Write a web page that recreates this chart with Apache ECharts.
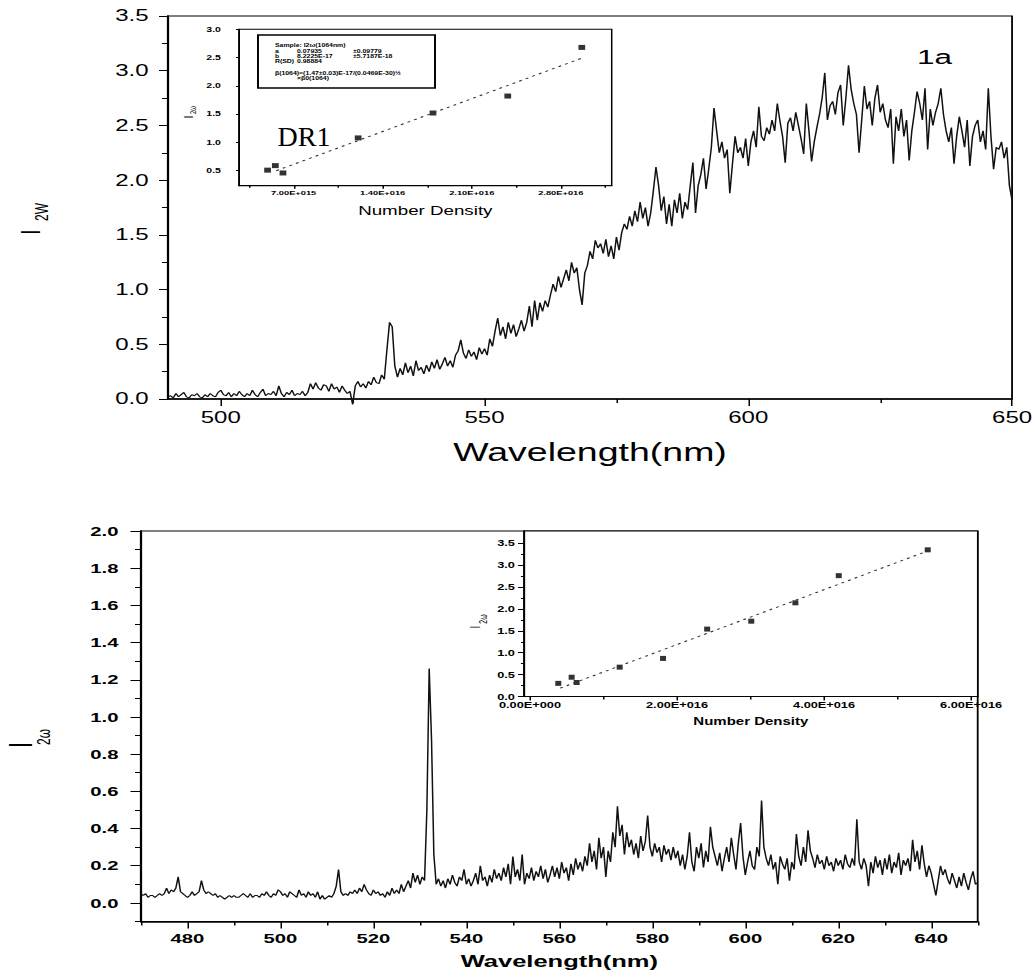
<!DOCTYPE html>
<html>
<head>
<meta charset="utf-8">
<script src="https://cdn.jsdelivr.net/npm/echarts@6/dist/echarts.min.js"></script>
<style>
html,body{margin:0;padding:0;background:#fff;}
#frame{width:1035px;height:979px;overflow:hidden;}
/* the scanned figure is stretched sideways, so draw narrow and widen with css */
#chart{width:690px;height:979px;transform:scaleX(1.5);transform-origin:0 0;}
</style>
</head>
<body>
<div id="frame"><div id="chart"></div></div>
<script>
// top panel (1a): SHG spectrum 490-650 nm, one value every 0.5 nm
const topStart = 490
const topStep = 0.5
const topI2w = [
  0.02,0.03,0.01,0.05,0.02,0.04,0.06,0.02,0.01,0.04,
  0.03,0.05,0.02,0.01,0.04,0.02,0.05,0.03,0.02,0.06,
  0.08,0.04,0.03,0.06,0.02,0.05,0.03,0.07,0.04,0.02,
  0.05,0.03,0.08,0.04,0.02,0.06,0.09,0.03,0.05,0.04,
  0.07,0.03,0.12,0.05,0.02,0.06,0.04,0.08,0.03,0.05,
  0.04,0.07,0.03,0.06,0.14,0.09,0.15,0.10,0.08,0.13,
  0.12,0.07,0.14,0.09,0.11,0.06,0.12,0.08,0.05,0.07,
  -0.05,0.12,0.16,0.11,0.14,0.10,0.16,0.13,0.20,0.15,
  0.14,0.22,0.18,0.45,0.70,0.66,0.30,0.20,0.28,0.22,
  0.33,0.24,0.30,0.21,0.35,0.26,0.29,0.23,0.31,0.25,
  0.34,0.28,0.36,0.27,0.32,0.38,0.30,0.35,0.29,0.40,
  0.44,0.54,0.42,0.37,0.45,0.39,0.43,0.36,0.47,0.41,
  0.46,0.40,0.55,0.48,0.62,0.74,0.58,0.66,0.55,0.70,
  0.60,0.68,0.57,0.64,0.72,0.62,0.70,0.85,0.66,0.90,
  0.72,0.88,0.80,0.90,0.84,0.95,1.05,0.98,1.12,1.02,
  1.10,1.18,1.08,1.25,1.15,1.20,1.00,0.86,1.15,1.22,
  1.35,1.28,1.45,1.38,1.42,1.33,1.46,1.30,1.40,1.28,
  1.48,1.36,1.52,1.60,1.55,1.67,1.58,1.72,1.62,1.80,
  1.65,1.75,1.58,1.70,1.90,2.12,1.95,1.72,1.85,1.60,
  1.78,1.58,1.82,1.70,1.88,1.65,1.80,1.73,1.95,2.16,
  1.70,1.95,2.05,2.20,1.92,2.10,2.30,2.66,2.45,2.25,
  2.35,2.20,2.28,1.88,2.15,2.40,2.25,2.30,2.20,2.38,
  2.13,2.35,2.45,2.30,2.67,2.40,2.36,2.48,2.42,2.55,
  2.45,2.70,2.54,2.40,2.16,2.52,2.57,2.45,2.62,2.50,
  2.38,2.24,2.70,2.45,2.17,2.35,2.48,2.60,2.75,2.98,
  2.55,2.68,2.72,2.60,2.80,2.87,2.50,2.75,3.05,2.83,
  2.70,2.60,2.25,2.55,2.86,2.65,2.72,2.50,2.75,2.87,
  2.62,2.70,2.55,2.48,2.65,2.15,2.58,2.45,2.65,2.40,
  2.55,2.18,2.45,2.62,2.81,2.70,2.55,2.84,2.28,2.65,
  2.50,2.62,2.70,2.84,2.60,2.45,2.35,2.48,2.15,2.40,
  2.58,2.45,2.30,2.55,2.13,2.40,2.50,2.55,2.35,2.45,
  2.28,2.84,2.40,2.10,2.30,2.28,2.35,2.20,2.30,1.95,
  1.82
]

// bottom panel: spectrum 470-650 nm, one value every 0.5 nm
const botStart = 470
const botStep = 0.5
const botI2w = [
  0.05,0.04,0.05,0.03,0.04,0.04,0.03,0.04,0.05,0.04,
  0.05,0.08,0.05,0.07,0.06,0.08,0.14,0.06,0.05,0.04,
  0.03,0.04,0.06,0.04,0.05,0.06,0.12,0.07,0.05,0.06,
  0.05,0.04,0.05,0.03,0.04,0.03,0.02,0.03,0.04,0.03,
  0.04,0.03,0.03,0.04,0.05,0.04,0.03,0.05,0.03,0.04,
  0.04,0.03,0.05,0.04,0.06,0.04,0.03,0.05,0.04,0.07,
  0.06,0.04,0.05,0.03,0.06,0.05,0.04,0.03,0.07,0.04,
  0.05,0.03,0.06,0.04,0.05,0.03,0.06,0.02,0.04,0.02,
  0.03,0.04,0.03,0.05,0.09,0.18,0.06,0.04,0.05,0.04,
  0.06,0.05,0.07,0.05,0.08,0.06,0.10,0.07,0.05,0.04,
  0.07,0.05,0.06,0.04,0.05,0.03,0.06,0.04,0.08,0.05,
  0.07,0.05,0.10,0.06,0.09,0.12,0.08,0.16,0.11,0.15,
  0.10,0.14,0.12,0.50,1.26,0.88,0.26,0.10,0.13,0.09,
  0.12,0.08,0.13,0.10,0.15,0.11,0.09,0.14,0.12,0.18,
  0.10,0.13,0.09,0.12,0.16,0.10,0.20,0.12,0.14,0.09,
  0.15,0.11,0.18,0.13,0.16,0.12,0.19,0.14,0.21,0.10,
  0.25,0.14,0.18,0.12,0.26,0.10,0.16,0.13,0.19,0.12,
  0.17,0.14,0.20,0.13,0.18,0.11,0.15,0.20,0.14,0.19,
  0.13,0.22,0.16,0.19,0.12,0.21,0.15,0.24,0.18,0.22,
  0.17,0.25,0.20,0.32,0.22,0.28,0.18,0.35,0.24,0.30,
  0.14,0.28,0.22,0.38,0.30,0.52,0.36,0.42,0.26,0.38,
  0.30,0.34,0.26,0.32,0.24,0.36,0.28,0.33,0.47,0.30,
  0.25,0.32,0.27,0.30,0.22,0.31,0.26,0.29,0.23,0.30,
  0.24,0.28,0.20,0.26,0.18,0.25,0.38,0.22,0.17,0.30,
  0.24,0.32,0.19,0.28,0.22,0.41,0.30,0.25,0.20,0.27,
  0.17,0.24,0.30,0.22,0.35,0.26,0.18,0.32,0.43,0.25,
  0.15,0.22,0.28,0.20,0.18,0.30,0.25,0.55,0.30,0.24,
  0.20,0.26,0.18,0.22,0.10,0.25,0.21,0.18,0.24,0.12,
  0.22,0.18,0.37,0.25,0.20,0.30,0.22,0.39,0.28,0.24,
  0.19,0.26,0.21,0.23,0.18,0.25,0.20,0.22,0.17,0.24,
  0.20,0.23,0.18,0.26,0.21,0.19,0.24,0.20,0.45,0.22,
  0.18,0.24,0.20,0.09,0.22,0.16,0.25,0.19,0.23,0.15,
  0.24,0.18,0.26,0.16,0.22,0.19,0.27,0.15,0.23,0.20,
  0.24,0.17,0.34,0.22,0.28,0.18,0.31,0.21,0.14,0.20,
  0.16,0.10,0.04,0.12,0.20,0.15,0.18,0.13,0.10,0.16,
  0.12,0.08,0.14,0.09,0.16,0.11,0.07,0.13,0.17,0.10,
  0.11
]

// insets: I2w against number density, with the linear fit
const topDensity = [4.95e15, 5.56e15, 6.16e15, 1.207e16, 1.795e16, 2.383e16, 2.965e16]
const topInsetI = [0.51, 0.59, 0.46, 1.08, 1.52, 1.82, 2.68]
const topFitX = [5.63e15, 2.965e16]
const topFitY = [0.50, 2.49]
const botDensity = [3.85e15, 5.67e15, 6.35e15, 1.22e16, 1.81e16, 2.41e16, 3.01e16, 3.61e16, 4.20e16, 5.41e16]
const botInsetI = [0.30, 0.44, 0.32, 0.67, 0.87, 1.54, 1.72, 2.14, 2.76, 3.35]
const botFitX = [4.1e15, 5.42e16]
const botFitY = [0.19, 3.33]

// tick values
const topWaveTicks = [500, 550, 600, 650]
const topWaveMinor = [525, 575, 625]
const topIntTicks = [0, 0.5, 1, 1.5, 2, 2.5, 3, 3.5]
const topIntMinor = [0.25, 0.75, 1.25, 1.75, 2.25, 2.75, 3.25]
const topDenTicks = [7e15, 1.4e16, 2.1e16, 2.8e16]
const topDenMinor = [3.5e15, 1.05e16, 1.75e16, 2.45e16, 3.15e16]
const topInsetTicks = [0.5, 1, 1.5, 2, 2.5, 3]
const botWaveTicks = [480, 500, 520, 540, 560, 580, 600, 620, 640]
const botWaveMinor = [470, 490, 510, 530, 550, 570, 590, 610, 630, 650]
const botIntTicks = [0, 0.2, 0.4, 0.6, 0.8, 1, 1.2, 1.4, 1.6, 1.8, 2]
const botIntMinor = [-0.1, 0.1, 0.3, 0.5, 0.7, 0.9, 1.1, 1.3, 1.5, 1.7, 1.9]
const botDenTicks = [0, 2e16, 4e16, 6e16]
const botDenMinor = [1e16, 3e16, 5e16]
const botInsetTicks = [0, 0.5, 1, 1.5, 2, 2.5, 3, 3.5]
const botInsetMinor = [0.25, 0.75, 1.25, 1.75, 2.25, 2.75, 3.25]

const fitNotes = [
  ['Sample: I2ω(1064nm)'],
  ['a', '0.07935', '±0.09779'],
  ['b', '8.2225E-17', '±5.7187E-18'],
  ['R(SD)', '0.98884'],
  ['β(1064)=(1.47±0.03)E-17/(0.0469E-30)½'],
  ['', '×β0(1064)']
]

const sans = 'Liberation Sans'

function sci(v){
  if(v === 0) return '0.00E+000'
  const e = Math.floor(Math.log10(v) + 1e-9)
  return (v / Math.pow(10, e)).toFixed(2) + 'E+' + String(e).padStart(3, '0')
}

// main axis + a second one on the same side that only draws the short ticks
function axes(dim, grid, min, max, major, minor, o){
  const pos = dim === 'x' ? 'bottom' : 'left'
  const main = {
    type:'value', gridIndex:grid, min:min, max:max, position:pos,
    axisLine:{show:true, onZero:false, lineStyle:{color:'#000', width:o.line}},
    axisTick:{show:true, inside:false, length:o.tick, customValues:major, lineStyle:{color:'#000', width:1}},
    axisLabel:{show:true, customValues:major, formatter:o.fmt, margin:o.margin, color:'#000',
      fontFamily:sans, fontSize:o.size, fontWeight:o.weight || 'normal'},
    splitLine:{show:false}
  }
  if(o.name){
    main.name = o.name
    main.nameLocation = 'middle'
    main.nameGap = o.nameGap
    main.nameTextStyle = {color:'#000', fontFamily:sans, fontSize:o.nameSize, fontWeight:o.nameWeight || 'normal'}
  }
  const sub = {
    type:'value', gridIndex:grid, min:min, max:max, position:pos,
    axisLine:{show:false, onZero:false},
    axisTick:{show:minor.length > 0, inside:false, length:o.minorTick,
      customValues:minor.length ? minor : major, lineStyle:{color:'#000', width:1}},
    axisLabel:{show:false}, splitLine:{show:false}
  }
  return [main, sub]
}

const one = v => v.toFixed(1)

const xAxis = [
  ...axes('x', 0, 490, 650, topWaveTicks, topWaveMinor,
    {line:1.5, tick:7, minorTick:4, size:16, margin:11, fmt:String, name:'Wavelength(nm)', nameGap:41, nameSize:25}),
  ...axes('x', 1, 2.7e15, 3.2e16, topDenTicks, topDenMinor,
    {line:1, tick:3, minorTick:2, size:6.2, weight:'bold', margin:4, fmt:sci, name:'Number Density', nameGap:18, nameSize:12.5}),
  ...axes('x', 2, 470, 650, botWaveTicks, botWaveMinor,
    {line:1.5, tick:7, minorTick:4, size:13.5, weight:'bold', margin:10, fmt:String, name:'Wavelength(nm)', nameGap:31, nameSize:17, nameWeight:'bold'}),
  ...axes('x', 3, -8.2e14, 6.09e16, botDenTicks, botDenMinor,
    {line:1.2, tick:4, minorTick:3, size:8.5, weight:'bold', margin:4, fmt:sci, name:'Number Density', nameGap:20, nameSize:10, nameWeight:'bold'})
]

const yAxis = [
  ...axes('y', 0, 0, 3.5, topIntTicks, topIntMinor, {line:1.5, tick:6, minorTick:4, size:16, margin:13, fmt:one}),
  ...axes('y', 1, 0.235, 3.0, topInsetTicks, [], {line:1, tick:2, minorTick:2, size:7, weight:'bold', margin:12, fmt:one}),
  ...axes('y', 2, -0.1, 2.0, botIntTicks, botIntMinor, {line:1.5, tick:7, minorTick:4, size:13.5, weight:'bold', margin:15, fmt:one}),
  ...axes('y', 3, 0, 3.78, botInsetTicks, botInsetMinor, {line:1.2, tick:4, minorTick:2, size:8.5, weight:'bold', margin:6, fmt:one})
]

const topLine = topI2w.map((v, i) => [topStart + i * topStep, v])
const botLine = botI2w.map((v, i) => [botStart + i * botStep, v])
const pairs = (xs, ys) => xs.map((x, i) => [x, ys[i]])

// small texts inside the fit-result box of the top inset
const noteCols = [183.3, 198, 235.3]
const noteRows = [45, 51, 56, 61.7, 73, 78]
const notes = []
fitNotes.forEach((row, r) => row.forEach((t, c) => {
  notes.push({type:'text', z:20, x:noteCols[c], y:noteRows[r],
    style:{text:t, font:'bold 4.6px "' + sans + '"', fill:'#000', align:'left', verticalAlign:'middle', textAlign:'left', textVerticalAlign:'middle'}})
}))

function rotText(x, y, t, size){
  return {type:'text', z:20, x:x, y:y, rotation:Math.PI / 2,
    style:{text:t, font:size + 'px "' + sans + '"', fill:'#000', align:'center', verticalAlign:'middle', textAlign:'center', textVerticalAlign:'middle'}}
}

const chart = echarts.init(document.getElementById('chart'), null, {renderer:'svg'})
chart.setOption({
  animation:false,
  backgroundColor:'#fff',
  grid:[
    {left:112, top:16, width:562.7, height:383, show:true, borderColor:'#000', borderWidth:1.2, backgroundColor:'transparent', outerBoundsMode:'none'},
    {left:159.3, top:29.3, width:248.5, height:156.4, show:true, borderColor:'#000', borderWidth:1, backgroundColor:'#fff', outerBoundsMode:'none'},
    {left:94, top:531, width:557.8, height:390.5, show:true, borderColor:'#000', borderWidth:1.2, backgroundColor:'transparent', outerBoundsMode:'none'},
    {left:349.3, top:531, width:302.5, height:165.5, show:true, borderColor:'#000', borderWidth:1, backgroundColor:'#fff', outerBoundsMode:'none'}
  ],
  xAxis:xAxis,
  yAxis:yAxis,
  series:[
    {type:'line', xAxisIndex:0, yAxisIndex:0, data:topLine, showSymbol:false, clip:false,
      lineStyle:{color:'#111', width:1}},
    {type:'line', xAxisIndex:2, yAxisIndex:2, data:pairs(topFitX, topFitY), showSymbol:false,
      lineStyle:{color:'#333', width:1, type:[2, 3]}},
    {type:'scatter', xAxisIndex:2, yAxisIndex:2, data:pairs(topDensity, topInsetI), symbol:'rect', symbolSize:[4.5, 5],
      itemStyle:{color:'#000'}},
    {type:'line', xAxisIndex:4, yAxisIndex:4, data:botLine, showSymbol:false,
      lineStyle:{color:'#111', width:1}},
    {type:'line', xAxisIndex:6, yAxisIndex:6, data:pairs(botFitX, botFitY), showSymbol:false,
      lineStyle:{color:'#333', width:1, type:[2, 3]}},
    {type:'scatter', xAxisIndex:6, yAxisIndex:6, data:pairs(botDensity, botInsetI), symbol:'rect', symbolSize:[4, 5],
      itemStyle:{color:'#000'}}
  ],
  graphic:[
    {type:'text', z:20, x:623, y:57,
      style:{text:'1a', font:'21px "' + sans + '"', fill:'#000', align:'center', verticalAlign:'middle', textAlign:'center', textVerticalAlign:'middle'}},
    {type:'text', z:20, x:202.7, y:137, scaleX:0.667,
      style:{text:'DR1', font:'28px "Liberation Serif"', fill:'#000', align:'center', verticalAlign:'middle', textAlign:'center', textVerticalAlign:'middle'}},
    {type:'rect', z:15, shape:{x:172, y:35, width:118, height:53}, style:{fill:'#fff', stroke:'#000', lineWidth:1.3}},
    ...notes,
    rotText(20, 232, 'I', 19),
    rotText(28, 212, '2W', 12),
    rotText(14, 745, 'I', 22),
    rotText(29.3, 737, '2ω', 12),
    rotText(125.3, 117, 'I', 9),
    rotText(129, 110, '2ω', 6),
    rotText(316.7, 627, 'I', 10),
    rotText(322.3, 619, '2ω', 7)
  ]
})
</script>
</body>
</html>
